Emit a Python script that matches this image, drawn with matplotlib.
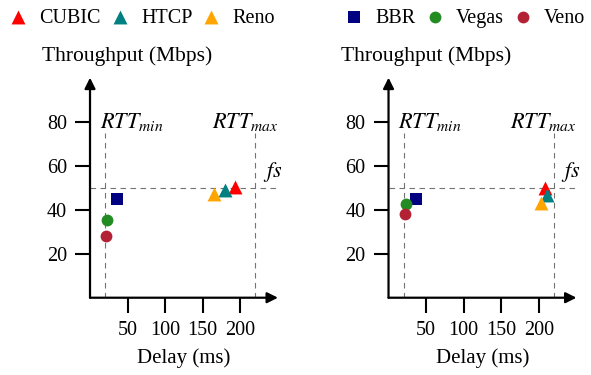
"""Throughput vs delay scatter for six congestion control algorithms (two scenarios)."""

import matplotlib

matplotlib.use("Agg")
import matplotlib.pyplot as plt

plt.rcParams["font.family"] = ["Liberation Serif", "DejaVu Serif"]
plt.rcParams["mathtext.fontset"] = "stix"
plt.rcParams["font.size"] = 14.5

algos = ["CUBIC", "HTCP", "Reno", "BBR", "Vegas", "Veno"]
colors = ["#ff0000", "#008080", "#ffa500", "#000080", "#228b22", "#b22234"]
markers = ["^", "^", "^", "s", "o", "o"]
sizes = [10, 10, 10, 8.5, 8.5, 8.5]

# delay (ms), throughput (Mbps) per algorithm, for each panel
left_delay = [193, 180, 164.5, 35.4, 22.5, 21.6]
left_tput = [50.2, 48.9, 47.0, 45.0, 35.2, 28.2]
right_delay = [208, 210.5, 203, 36, 22.8, 21.9]
right_tput = [50.0, 46.7, 43.0, 45.0, 42.4, 38.2]

rtt_min, rtt_max, fair_share = 20, 220, 50
xticks = [50, 100, 150, 200]
yticks = [20, 40, 60, 80]

fig = plt.figure(figsize=(5.91, 3.75), dpi=100)
ax_l = fig.add_axes([0.1523, 0.2061, 0.318, 0.5867])
ax_r = fig.add_axes([0.6574, 0.2061, 0.318, 0.5867])

handles = []
for ax, xs, ys in ((ax_l, left_delay, left_tput), (ax_r, right_delay, right_tput)):
    ax.set_xlim(0, 250)
    ax.set_ylim(0, 100)
    for side in ("top", "right", "left", "bottom"):
        ax.spines[side].set_visible(False)
    arrow = dict(arrowstyle="-|>", lw=1.6, color="black", mutation_scale=16,
                 shrinkA=0, shrinkB=0)
    ax.annotate("", xy=(1, 0), xytext=(0, 0), xycoords="axes fraction", arrowprops=arrow)
    ax.annotate("", xy=(0, 1), xytext=(0, 0), xycoords="axes fraction", arrowprops=arrow)

    dash = dict(color="0.45", lw=0.8, dashes=(5, 4), zorder=1)
    ax.plot([0, 250], [fair_share, fair_share], **dash)
    ax.plot([rtt_min, rtt_min], [0, 75], **dash)
    ax.plot([rtt_max, rtt_max], [0, 75], **dash)

    ax.text(13, 77, r"$RTT_{min}$", ha="left", va="baseline", fontsize=16)
    ax.text(162, 77, r"$RTT_{max}$", ha="left", va="baseline", fontsize=16)
    ax.text(230, 55, r"$fs$", ha="left", va="baseline", fontsize=16)

    handles = []
    for name, x, y, c, m, s in zip(algos, xs, ys, colors, markers, sizes):
        h = ax.scatter([x], [y], s=s ** 2, marker=m, color=c, linewidths=0,
                       zorder=3, label=name, clip_on=False)
        handles.append(h)

    ax.set_xticks(xticks)
    ax.set_yticks(yticks)
    ax.tick_params(direction="out", length=10.5, width=1.5, pad=6)
    ax.text(0.2, 1.1, "Throughput (Mbps)", transform=ax.transAxes,
            ha="center", va="center", fontsize=15.5)
    ax.text(0.5, -0.275, "Delay (ms)", transform=ax.transAxes,
            ha="center", va="center", fontsize=15)

legend_kw = dict(loc="center left", ncol=3, frameon=False, borderpad=0,
                 borderaxespad=0, handlelength=0.7, handletextpad=0.7,
                 columnspacing=0.6, fontsize=14.5)
fig.legend(handles[:3], algos[:3], bbox_to_anchor=(11 / 591, 1 - 18 / 375), **legend_kw)
fig.legend(handles[3:], algos[3:], bbox_to_anchor=(347 / 591, 1 - 18 / 375), **legend_kw)

fig.savefig("out.png", dpi=100)
plt.close(fig)
